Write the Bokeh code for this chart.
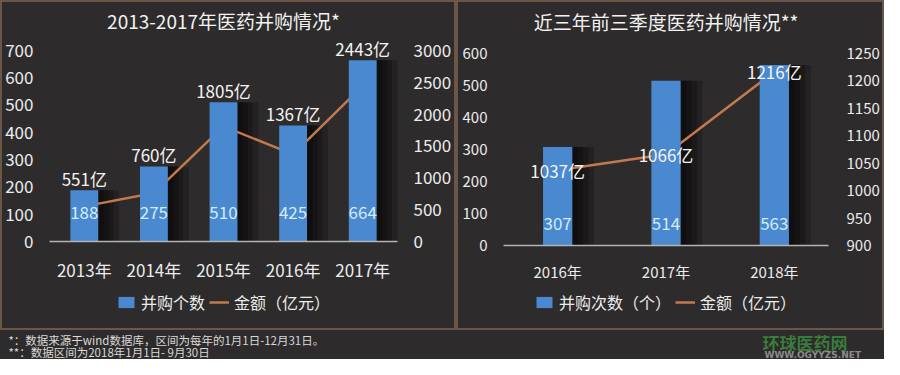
from bokeh.plotting import figure
from bokeh.models import (Range1d, LinearAxis, FixedTicker, Label, LabelSet, Legend,
                          LegendItem, ColumnDataSource)
from bokeh.layouts import column, row
from bokeh.embed import file_html
from bokeh.resources import INLINE
from bokeh.core.properties import value

# ---------------- data ----------------
years_a = ["2013年", "2014年", "2015年", "2016年", "2017年"]
deals_a = [188, 275, 510, 425, 664]
amount_a = [551, 760, 1805, 1367, 2443]
left_ticks_a = [0, 100, 200, 300, 400, 500, 600, 700]
right_ticks_a = [0, 500, 1000, 1500, 2000, 2500, 3000]

years_b = ["2016年", "2017年", "2018年"]
deals_b = [307, 514, 563]
amount_b = [1037, 1066, 1216]
left_ticks_b = [0, 100, 200, 300, 400, 500, 600]
right_ticks_b = [900, 950, 1000, 1050, 1100, 1150, 1200, 1250]

title_a = "2013-2017年医药并购情况*"
title_b = "近三年前三季度医药并购情况**"
legend_a = ["并购个数", "金额（亿元）"]
legend_b = ["并购次数（个）", "金额（亿元）"]
notes = ["*：数据来源于wind数据库，区间为每年的1月1日-12月31日。",
         "**：数据区间为2018年1月1日- 9月30日"]
brand = "环球医药网"
brand_url = "WWW.OGYYZS.NET"

# ---------------- style ----------------
BG = "#2d2b2b"
BAR = "#4a88cf"
LINE = "#c27a4c"
TXT = "#ececec"
VAL = "#d2ecf8"
FONT = "Noto Sans CJK SC"
BORDER = {"border": "2px solid #6b5747", "background-color": BG}
NAN = float("nan")


def style_axis(ax, size, standoff):
    ax.axis_line_color = None
    ax.major_tick_line_color = None
    ax.minor_tick_line_color = None
    ax.major_label_text_color = TXT
    ax.major_label_text_font = FONT
    ax.major_label_text_font_size = size
    ax.major_label_standoff = standoff


def chart(years, deals, amount, lticks, rticks, title, width, height, mb, top_px,
          plot_px, title_off, bar_w, shadow, fs_tick, fs_x, lstand, rstand, xstand,
          amount_on_line, val_off):
    n = len(years)
    xs = list(range(1, n + 1))
    lspan = lticks[-1] - lticks[0]
    rspan = rticks[-1] - rticks[0]
    p = figure(width=width, height=height, output_backend="svg", toolbar_location=None,
               x_range=Range1d(0.5, n + 0.5),
               y_range=Range1d(lticks[0], lticks[-1] + top_px * lspan / plot_px),
               min_border_left=mb[0], min_border_right=mb[1],
               min_border_top=0, min_border_bottom=mb[2],
               background_fill_color=BG, border_fill_color=BG, outline_line_color=None)
    p.extra_y_ranges = {"amt": Range1d(rticks[0], rticks[-1] + top_px * rspan / plot_px)}
    p.xgrid.visible = False
    p.ygrid.visible = False

    p.xaxis.ticker = FixedTicker(ticks=xs)
    p.xaxis.major_label_overrides = {x: y for x, y in zip(xs, years)}
    style_axis(p.xaxis[0], fs_x, xstand)
    p.xaxis.axis_line_color = "#b4b4b4"
    p.xaxis.axis_line_width = 1.5
    p.yaxis.ticker = FixedTicker(ticks=lticks)
    style_axis(p.yaxis[0], fs_tick, lstand)
    rax = LinearAxis(y_range_name="amt", ticker=FixedTicker(ticks=rticks))
    style_axis(rax, fs_tick, rstand)
    p.add_layout(rax, "right")

    src = ColumnDataSource(dict(
        x=xs, deals=deals, amount=amount, base=[0] * n,
        amt_lbl=[f"{a}亿" for a in amount], deal_lbl=[str(d) for d in deals],
        sl=[x + bar_w / 2 for x in xs]))

    # soft shadow to the right of each bar
    for k, s in enumerate(shadow):
        src.data[f"sr{k}"] = [x + bar_w / 2 + s for x in xs]
        p.quad(left="sl", right=f"sr{k}", top="deals", bottom="base", source=src,
               fill_color="black", fill_alpha=0.22, line_color=None)

    p.line("x", "amount", y_range_name="amt", source=src, line_color=LINE, line_width=2.5)
    p.vbar(x="x", top="deals", width=bar_w, source=src, fill_color=BAR, line_color=None)

    p.add_layout(LabelSet(x="x", y="base", text="deal_lbl", source=src, y_offset=val_off,
                          text_align="center", text_baseline="middle",
                          text_font=value(FONT), text_font_size="17px", text_color=VAL))
    if amount_on_line:
        p.add_layout(LabelSet(x="x", y="amount", y_range_name="amt", text="amt_lbl",
                              source=src, text_align="center", text_baseline="middle",
                              text_font=value(FONT), text_font_size="17px",
                              text_color="#f4f4f4"))
    else:
        p.add_layout(LabelSet(x="x", y="deals", text="amt_lbl", source=src, y_offset=12,
                              text_align="center", text_baseline="middle",
                              text_font=value(FONT), text_font_size="17px",
                              text_color="#f4f4f4"))

    p.add_layout(Label(x=(n + 1) / 2, y=lticks[-1], y_offset=title_off, text=title,
                       text_align="center", text_baseline="middle", text_font=FONT,
                       text_font_size="19px", text_color="#f2f2f2"))
    return p


def legend_fig(width, height, mb, labels, loc):
    q = figure(width=width, height=height, output_backend="svg", toolbar_location=None,
               x_range=Range1d(0, width - mb[0] - mb[1]), y_range=Range1d(0, height),
               min_border_left=mb[0], min_border_right=mb[1],
               min_border_top=0, min_border_bottom=0,
               background_fill_color=BG, border_fill_color=BG, outline_line_color=None,
               x_axis_type=None, y_axis_type=None)
    q.xgrid.visible = False
    q.ygrid.visible = False
    # legend-only renderers (NaN data: nothing is drawn in the plot itself)
    b = q.vbar(x=[NAN], top=[NAN], width=1, fill_color=BAR, line_color=None)
    l = q.line(x=[NAN, NAN], y=[NAN, NAN], line_color=LINE, line_width=2.5)
    leg = Legend(items=[LegendItem(label=labels[0], renderers=[b]),
                        LegendItem(label=labels[1], renderers=[l])],
                 orientation="horizontal", location=loc,
                 label_text_font=FONT, label_text_font_size="16px", label_text_color=TXT,
                 background_fill_alpha=0, border_line_color=None,
                 glyph_width=20, glyph_height=14, label_standoff=5, spacing=4,
                 padding=20, margin=0)
    q.add_layout(leg)
    return q


MB_A = (45, 47, 32)
MB_B = (45, 49, 32)
c1 = chart(years_a, deals_a, amount_a, left_ticks_a, right_ticks_a, title_a,
           452, 282, MB_A, 50, 200, 30, 0.4, [0.08, 0.15, 0.22, 0.3],
           "17px", "17px", 10, 10, 9, False, 29)
c2 = chart(years_b, deals_b, amount_b, left_ticks_b, right_ticks_b, title_b,
           424, 282, MB_B, 52, 198, 32, 0.27, [0.05, 0.1, 0.15, 0.2],
           "15px", "15px", 10, 12, 9, True, 22)
l1 = legend_fig(452, 44, MB_A, legend_a, (67, 14))
l2 = legend_fig(424, 44, MB_B, legend_b, (31, 14))

p3 = figure(width=884, height=29, output_backend="svg", toolbar_location=None,
            x_range=Range1d(0, 884), y_range=Range1d(0, 29), min_border=0,
            background_fill_color=BG, border_fill_color=BG, outline_line_color=None,
            x_axis_type=None, y_axis_type=None)
p3.xgrid.visible = False
p3.ygrid.visible = False
p3.text(x=[8, 8], y=[20, 8], text=notes, text_font=value(FONT), text_font_size="11.5px",
        text_baseline="middle", text_color="#d9d9d9")
p3.text(x=[762], y=[17], text=[brand], text_font=value(FONT), text_font_size="17px",
        text_font_style="bold", text_baseline="middle", text_color="#3d8b3d",
        text_alpha=0.85)
p3.text(x=[764], y=[5], text=[brand_url], text_font=value("DejaVu Sans"),
        text_font_size="9px", text_font_style="bold", text_baseline="middle",
        text_color="#8c8c8c")

panel_a = column(c1, l1, styles=BORDER)
panel_b = column(c2, l2, styles=BORDER)
layout = column(row(panel_a, panel_b, styles={"background-color": BG}), p3,
                styles={"background-color": BG})
open("out.html", "w").write(file_html(layout, INLINE))
